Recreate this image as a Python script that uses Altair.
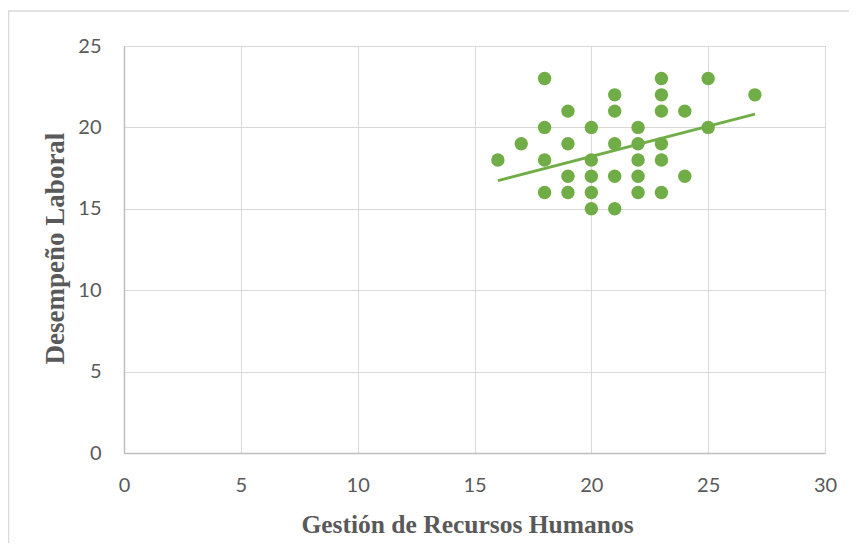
import altair as alt
import pandas as pd

# Scatter points
gestion = [16, 17,
           18, 18, 18, 18,
           19, 19, 19, 19,
           20, 20, 20, 20, 20,
           21, 21, 21, 21, 21,
           22, 22, 22, 22, 22,
           23, 23, 23, 23, 23, 23,
           24, 24,
           25, 25,
           27]
desempeno = [18, 19,
             23, 20, 18, 16,
             21, 19, 17, 16,
             20, 18, 17, 16, 15,
             22, 21, 19, 17, 15,
             20, 19, 18, 17, 16,
             23, 22, 21, 19, 18, 16,
             21, 17,
             23, 20,
             22]

# Linear trend line end points
trend_x = [16, 27]
trend_y = [16.73, 20.82]

x_ticks = [0, 5, 10, 15, 20, 25, 30]
y_ticks = [0, 5, 10, 15, 20, 25]

pts = pd.DataFrame({"x": gestion, "y": desempeno})
trend = pd.DataFrame({"x": trend_x, "y": trend_y})

GREEN = "#70AD47"
GRAY_TXT = "#595959"
W, H = 701, 407

x_enc = alt.X(
    "x:Q",
    scale=alt.Scale(domain=[0, 30], nice=False),
    axis=alt.Axis(
        values=x_ticks, title="Gestión de Recursos Humanos",
        titleX=343, titleY=79, titleAlign="center", titleBaseline="alphabetic",
        titleFontSize=25.5,
        labelBaseline="middle", labelPadding=32, labelFlush=False,
    ),
)
y_enc = alt.Y(
    "y:Q",
    scale=alt.Scale(domain=[0, 25], nice=False),
    axis=alt.Axis(
        values=y_ticks, title="Desempeño Laboral",
        titleX=-61, titleY=202, titleAlign="center", titleBaseline="alphabetic",
        titleAngle=270, titleFontSize=27, labelPadding=23, labelFlush=False,
    ),
)

frame = alt.Chart(alt.Data(values=[{}])).mark_rect(
    fill="transparent", stroke="#d9d9d9", strokeWidth=1.5, clip=False
).encode(
    x=alt.value(-115.5), x2=alt.value(W + 200),
    y=alt.value(-35), y2=alt.value(H + 300),
)

line = alt.Chart(trend).mark_line(color=GREEN, strokeWidth=2.75).encode(
    x=x_enc, y=y_enc
)

points = alt.Chart(pts).mark_circle(color=GREEN, opacity=1, size=180).encode(
    x=x_enc, y=y_enc
)

chart = alt.layer(frame, line, points).properties(
    width=W, height=H,
    background="white",
    autosize=alt.AutoSizeParams(type="none"),
    padding={"left": 116, "top": 38, "right": 24, "bottom": 90},
).configure_view(
    stroke="#d9d9d9", strokeWidth=1
).configure_axis(
    grid=True, gridColor="#d9d9d9", gridWidth=1,
    domainColor="#bfbfbf", domainWidth=1.5,
    ticks=False,
    labelFont="Lato", labelFontSize=20, labelColor=GRAY_TXT,
    titleFont="Liberation Serif", titleFontWeight="bold",
    titleColor=GRAY_TXT,
)

chart.save("out.html", embed_options={"renderer": "svg", "actions": False})
